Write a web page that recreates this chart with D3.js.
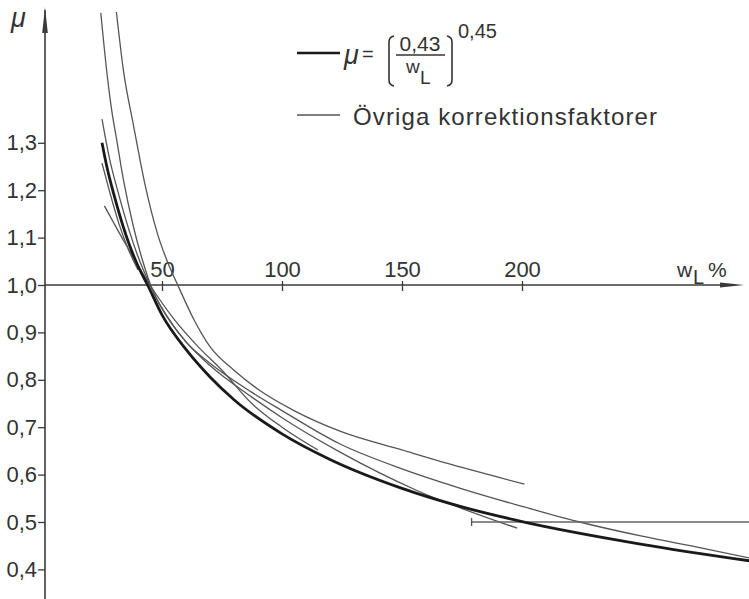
<!DOCTYPE html>
<html>
<head>
<meta charset="utf-8">
<script src="https://cdn.jsdelivr.net/npm/d3@7"></script>
<style>
  body { margin: 0; background: #fff; }
  text { font-family: "Liberation Sans", Arial, sans-serif; fill: #333; }
</style>
</head>
<body>
<svg class="chart" width="749" height="599"></svg>
<script>
// tick values
var xTicks = [50, 100, 150, 200];
var yTicks = [0.4, 0.5, 0.6, 0.7, 0.8, 0.9, 1.0, 1.1, 1.2, 1.3];

// thick curve, mu = (0.43/wL)^0.45  (wL in %)
var thickW = [25, 27, 30, 35, 40, 44, 50, 60, 70, 80, 100, 120, 150, 175, 200, 250, 295];
var thickMu = [1.30, 1.25, 1.19, 1.105, 1.04, 1.0, 0.937, 0.864, 0.806, 0.758, 0.686, 0.632, 0.571, 0.532, 0.501, 0.453, 0.418];

// other correction factors (thin)
var curveAW = [24.5, 27, 29, 31, 34, 38, 42, 46, 52, 60, 70, 87, 100, 124, 150, 175, 200, 224, 250, 275, 295];
var curveAMu = [1.574, 1.45, 1.37, 1.31, 1.22, 1.125, 1.05, 0.99, 0.935, 0.88, 0.835, 0.775, 0.735, 0.665, 0.612, 0.57, 0.533, 0.50, 0.47, 0.445, 0.424];

var curveBW = [31, 34, 38, 43, 48, 53, 57, 63, 70, 80, 90, 105, 125, 150, 175, 201];
var curveBMu = [1.576, 1.45, 1.34, 1.21, 1.11, 1.04, 0.995, 0.93, 0.87, 0.82, 0.78, 0.735, 0.69, 0.652, 0.615, 0.58];

var curveCW = [25, 28, 32, 36, 40, 45, 50, 60, 70, 87, 100, 124, 156, 198];
var curveCMu = [1.35, 1.27, 1.19, 1.12, 1.06, 1.0, 0.95, 0.88, 0.83, 0.765, 0.72, 0.648, 0.567, 0.487];

var curveDW = [26, 35, 45, 55, 65, 75, 87, 100, 115];
var curveDMu = [1.167, 1.085, 1.0, 0.928, 0.87, 0.82, 0.752, 0.70, 0.652];

var curveEW = [25, 28, 32, 36, 40];
var curveEMu = [1.257, 1.2, 1.13, 1.075, 1.032];

var flatW = [179, 295];
var flatMu = [0.5, 0.5];

var svg = d3.select(".chart");
var x = d3.scaleLinear().domain([0, 295]).range([42, 750]);
var y = d3.scaleLinear().domain([0.4, 1.0]).range([569.4, 285]);
var axisX = 45;
var axisColor = "#3a3a3a";

function pts(ws, ms) {
  return ws.map(function(w, i) { return [w, ms[i]]; });
}

var line = d3.line()
  .x(function(d) { return x(d[0]); })
  .y(function(d) { return y(d[1]); })
  .curve(d3.curveMonotoneX);

// y axis
var gy = svg.append("g")
  .attr("transform", "translate(" + axisX + ",0)")
  .call(d3.axisLeft(y).tickValues(yTicks).tickSize(7).tickPadding(1)
    .tickFormat(function(d) { return d3.format(".1f")(d).replace(".", ","); }));
gy.select(".domain").remove();
gy.selectAll("line").attr("stroke", axisColor).attr("stroke-width", 1.3);
gy.selectAll("text").style("font-family", "Liberation Sans, Arial, sans-serif")
  .attr("font-size", 22).attr("fill", "#333");

svg.append("line")
  .attr("x1", axisX).attr("x2", axisX).attr("y1", 10).attr("y2", 599)
  .attr("stroke", axisColor).attr("stroke-width", 1.6);
svg.append("path")
  .attr("d", "M" + axisX + ",7 L" + (axisX - 2.8) + ",33 L" + (axisX + 2.8) + ",33 Z")
  .attr("fill", axisColor);

// x axis along mu = 1
var gx = svg.append("g")
  .attr("transform", "translate(0," + y(1.0) + ")")
  .call(d3.axisBottom(x).tickValues(xTicks).tickSize(6));
gx.select(".domain").remove();
gx.selectAll("line").attr("y1", -4).attr("y2", 6).attr("stroke", axisColor).attr("stroke-width", 1.3);
gx.selectAll("text").attr("y", -8).attr("dy", 0)
  .style("font-family", "Liberation Sans, Arial, sans-serif")
  .attr("font-size", 22).attr("fill", "#333");

svg.append("line")
  .attr("x1", axisX).attr("x2", 730).attr("y1", y(1.0)).attr("y2", y(1.0))
  .attr("stroke", axisColor).attr("stroke-width", 1.6);
svg.append("path")
  .attr("d", "M744," + y(1.0) + " L720," + (y(1.0) - 2.6) + " L720," + (y(1.0) + 2.6) + " Z")
  .attr("fill", axisColor);

// axis labels
svg.append("text").attr("x", 11).attr("y", 27).attr("font-size", 27)
  .attr("font-style", "italic").text("μ");
var xl = svg.append("g");
xl.append("text").attr("x", 677).attr("y", 277).attr("font-size", 21).text("w");
xl.append("text").attr("x", 693).attr("y", 284).attr("font-size", 20).text("L");
xl.append("text").attr("x", 708).attr("y", 277).attr("font-size", 21).text("%");

// curves
var thin = [
  pts(curveAW, curveAMu),
  pts(curveBW, curveBMu),
  pts(curveCW, curveCMu),
  pts(curveDW, curveDMu),
  pts(curveEW, curveEMu)
];
svg.append("g").selectAll("path")
  .data(thin)
  .enter().append("path")
  .attr("d", line)
  .attr("fill", "none")
  .attr("stroke", "#555")
  .attr("stroke-width", 1.3);

svg.append("path")
  .datum(pts(flatW, flatMu))
  .attr("d", line)
  .attr("fill", "none")
  .attr("stroke", "#666")
  .attr("stroke-width", 1.3);
svg.append("line")
  .attr("x1", x(flatW[0])).attr("x2", x(flatW[0]))
  .attr("y1", y(flatMu[0]) - 4).attr("y2", y(flatMu[0]) + 4)
  .attr("stroke", "#555").attr("stroke-width", 1.3);

svg.append("path")
  .datum(pts(thickW, thickMu))
  .attr("d", line)
  .attr("fill", "none")
  .attr("stroke", "#1a1a1a")
  .attr("stroke-width", 2.8);

// legend
var lg = svg.append("g");
lg.append("line").attr("x1", 297).attr("x2", 340).attr("y1", 53).attr("y2", 53)
  .attr("stroke", "#1a1a1a").attr("stroke-width", 2.5);
lg.append("text").attr("x", 344).attr("y", 64).attr("font-size", 27)
  .attr("font-style", "italic").text("μ");
lg.append("text").attr("x", 362).attr("y", 61).attr("font-size", 20).text("=");
lg.append("path").attr("d", "M394,36 Q389,37 389,42 L389,80 Q389,85 394,86")
  .attr("fill", "none").attr("stroke", "#333").attr("stroke-width", 1.6);
lg.append("path").attr("d", "M447,36 Q452,37 452,42 L452,80 Q452,85 447,86")
  .attr("fill", "none").attr("stroke", "#333").attr("stroke-width", 1.6);
lg.append("text").attr("x", 420).attr("y", 51).attr("font-size", 21)
  .attr("text-anchor", "middle").text("0,43");
lg.append("line").attr("x1", 396).attr("x2", 445).attr("y1", 55).attr("y2", 55)
  .attr("stroke", "#333").attr("stroke-width", 1.3);
lg.append("text").attr("x", 406).attr("y", 73).attr("font-size", 19).text("w");
lg.append("text").attr("x", 420).attr("y", 84).attr("font-size", 19).text("L");
lg.append("text").attr("x", 458).attr("y", 38).attr("font-size", 20).text("0,45");

lg.append("line").attr("x1", 297).attr("x2", 340).attr("y1", 115).attr("y2", 115)
  .attr("stroke", "#555").attr("stroke-width", 1.3);
lg.append("text").attr("x", 353).attr("y", 125).attr("font-size", 24)
  .attr("textLength", 304).attr("lengthAdjust", "spacing")
  .text("Övriga korrektionsfaktorer");
</script>
</body>
</html>
